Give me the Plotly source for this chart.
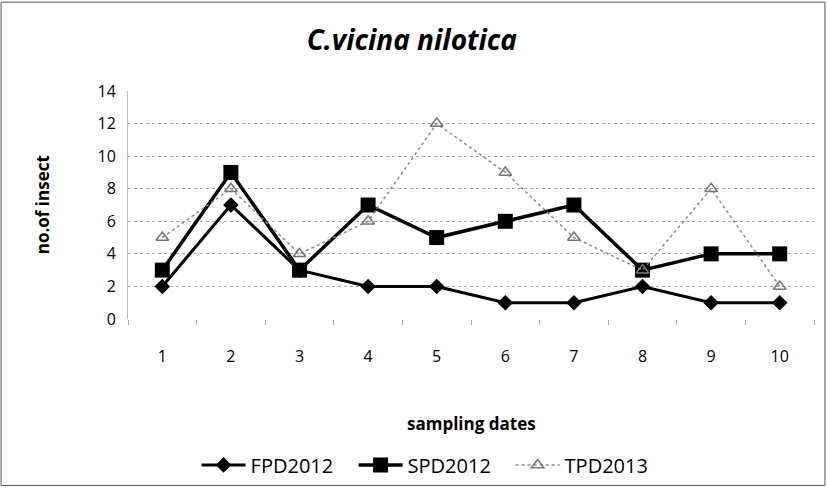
import plotly.graph_objects as go

dates = [1, 2, 3, 4, 5, 6, 7, 8, 9, 10]
fpd2012 = [2, 7, 3, 2, 2, 1, 1, 2, 1, 1]
spd2012 = [3, 9, 3, 7, 5, 6, 7, 3, 4, 4]
tpd2013 = [5, 8, 4, 6, 12, 9, 5, 3, 8, 2]
y_ticks = [0, 2, 4, 6, 8, 10, 12, 14]

FONT = "Open Sans, sans-serif"

fig = go.Figure()

fig.add_trace(go.Scatter(
    x=dates, y=fpd2012, name="FPD2012", mode="lines+markers",
    line=dict(color="black", width=3),
    marker=dict(symbol="diamond", size=12, color="black")
))
fig.add_trace(go.Scatter(
    x=dates, y=spd2012, name="SPD2012", mode="lines+markers",
    line=dict(color="black", width=3.5),
    marker=dict(symbol="square", size=15, color="black")
))
fig.add_trace(go.Scatter(
    x=dates, y=tpd2013, name="TPD2013", mode="lines+markers",
    line=dict(color="#8a8a8a", width=1.5, dash="dot"),
    marker=dict(symbol="triangle-up-open", size=11, color="#777777",
                line=dict(width=1.5))
))

fig.update_layout(
    width=827, height=488,
    margin=dict(l=128, r=13, t=91, b=169, autoexpand=False),
    plot_bgcolor="white", paper_bgcolor="white",
    font=dict(family=FONT, size=15, color="black"),
    title=dict(text="<b><i>C.vicina nilotica</i></b>", x=0.498, xanchor="center",
               y=0.918, yanchor="middle", font=dict(size=28, family=FONT)),
    showlegend=True,
    legend=dict(orientation="h", x=0.1, xanchor="left", y=-0.64, yanchor="middle",
                font=dict(size=20), traceorder="normal", entrywidth=98,
                itemwidth=44),
    xaxis=dict(
        range=[0.5, 10.5], tickvals=dates, showgrid=False, zeroline=False,
        showline=False, ticklabelstandoff=26, automargin=False,
        tickfont=dict(size=16),
        minor=dict(tick0=0.5, dtick=1, ticks="outside", ticklen=5,
                   tickcolor="#aaaaaa", showgrid=False)
    ),
    yaxis=dict(
        range=[0, 14], tickvals=y_ticks, showgrid=True, gridcolor="#a8a8a8",
        griddash="dot", gridwidth=1, zeroline=False,
        showline=True, linecolor="#bbbbbb", linewidth=1, automargin=False,
        ticklabelstandoff=8, tickfont=dict(size=16)
    ),
    annotations=[
        dict(text="<b>sampling dates</b>", xref="paper", yref="paper",
             x=0.5, y=-0.46, xanchor="center", yanchor="middle",
             showarrow=False, font=dict(size=17)),
        dict(text="<b>no.of insect</b>", xref="paper", yref="paper",
             x=-0.125, y=0.5, xanchor="center", yanchor="middle", textangle=-90,
             showarrow=False, font=dict(size=17)),
    ],
    shapes=[
        dict(type="rect", xref="paper", yref="paper",
             x0=-0.185, x1=1.016, y0=-0.73, y1=1.39,
             line=dict(color="#555555", width=1)),
    ],
)

fig.write_html("out.html", config={"displayModeBar": False},
               post_script="document.body.style.margin='0';")
